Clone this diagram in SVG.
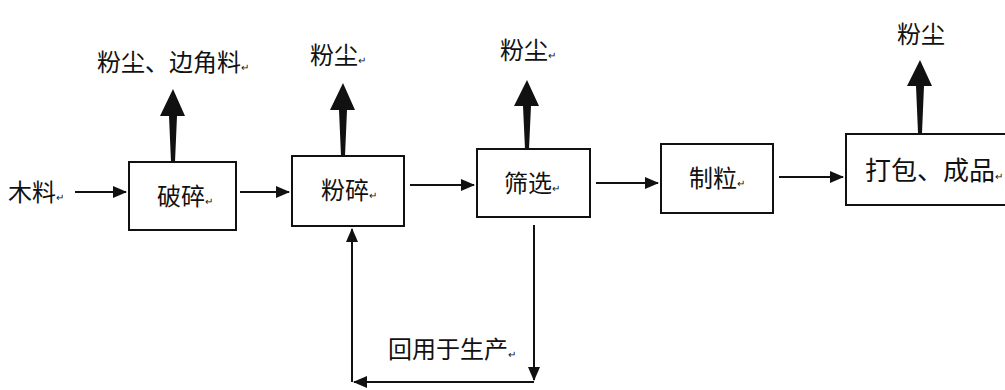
<svg xmlns="http://www.w3.org/2000/svg" width="1005" height="390" viewBox="0 0 1005 390">
<defs>
<style>
.box{fill:#fff;stroke:#111;stroke-width:2}
.t{font-family:"Noto Sans CJK SC","Noto Sans",sans-serif;fill:#111;font-size:24px}
.pm{font-size:10px}
.ln{stroke:#111;stroke-width:2;fill:none}
.thick{fill:#111}
</style>
<marker id="ah" markerWidth="14" markerHeight="14" refX="13" refY="7" orient="auto" markerUnits="userSpaceOnUse">
<path d="M0,1 L14,7 L0,13 Z" fill="#111"/>
</marker>
</defs>
<rect width="1005" height="390" fill="#fff"/>
<g id="n-input"><text class="t" x="8" y="201">木料<tspan class="pm">↵</tspan></text></g>
<g id="n-posui"><rect class="box" x="129" y="162" width="107" height="68"/><text class="t" x="157" y="205">破碎<tspan class="pm">↵</tspan></text></g>
<g id="n-fensui"><rect class="box" x="292" y="156" width="112" height="70"/><text class="t" x="321" y="199">粉碎<tspan class="pm">↵</tspan></text></g>
<g id="n-shaixuan"><rect class="box" x="477" y="149" width="113" height="68"/><text class="t" x="504" y="192">筛选<tspan class="pm">↵</tspan></text></g>
<g id="n-zhili"><rect class="box" x="661" y="144" width="112" height="69"/><text class="t" x="689" y="187">制粒<tspan class="pm">↵</tspan></text></g>
<g id="n-dabao"><rect class="box" x="846" y="134" width="170" height="71"/><text class="t" x="865" y="180" style="font-size:26px">打包、成品<tspan class="pm">↵</tspan></text></g>
<g id="n-out1"><text class="t" x="97" y="71">粉尘、边角料<tspan class="pm">↵</tspan></text></g>
<g id="n-out2"><text class="t" x="310" y="64">粉尘<tspan class="pm">↵</tspan></text></g>
<g id="n-out3"><text class="t" x="500" y="59">粉尘<tspan class="pm">↵</tspan></text></g>
<g id="n-out4"><text class="t" x="897" y="43">粉尘</text></g>
<g id="n-recycle"><text class="t" x="388" y="358">回用于生产<tspan class="pm">↵</tspan></text></g>
<g id="connectors">
<line class="ln" x1="75" y1="192" x2="126" y2="192" marker-end="url(#ah)"/>
<line class="ln" x1="240" y1="192" x2="289" y2="192" marker-end="url(#ah)"/>
<line class="ln" x1="410" y1="185" x2="474" y2="185" marker-end="url(#ah)"/>
<line class="ln" x1="596" y1="183" x2="658" y2="183" marker-end="url(#ah)"/>
<line class="ln" x1="779" y1="177" x2="843" y2="177" marker-end="url(#ah)"/>
<polygon class="thick" points="171,162 175,162 177,116 185,116 173,89 160,116 169,116"/>
<polygon class="thick" points="341,156 345,156 347,110 355,110 343,83 330,110 339,110"/>
<polygon class="thick" points="525,149 529,149 531,106 539,106 527,80 514,106 523,106"/>
<polygon class="thick" points="918,133 922,133 924,86 932,86 920,60 907,86 916,86"/>
<line class="ln" x1="534" y1="225" x2="534" y2="380" marker-end="url(#ah)"/>
<line class="ln" x1="534" y1="382" x2="354" y2="382" marker-end="url(#ah)"/>
<line class="ln" x1="352" y1="382" x2="352" y2="229" marker-end="url(#ah)"/>
</g>
</svg>
